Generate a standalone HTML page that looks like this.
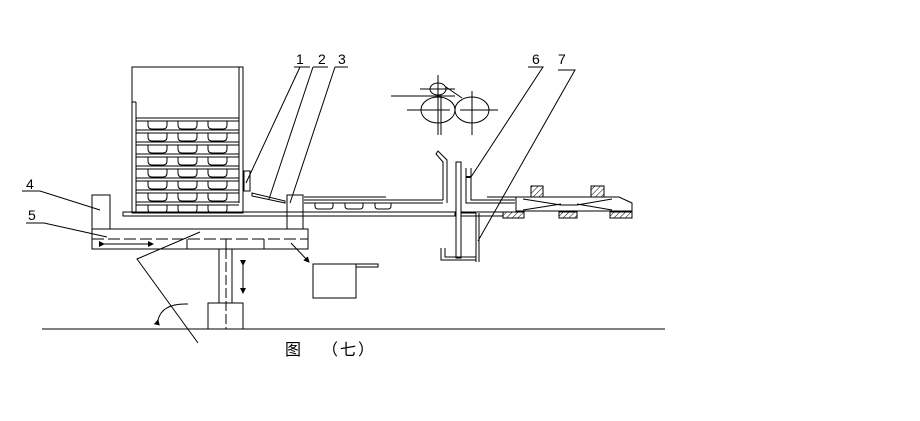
<!DOCTYPE html>
<html><head><meta charset="utf-8"><style>html,body{margin:0;padding:0;background:#fff}svg{display:block}</style></head>
<body>
<svg width="920" height="421" viewBox="0 0 920 421" xmlns="http://www.w3.org/2000/svg">
<defs>
<pattern id="h" width="4" height="4" patternUnits="userSpaceOnUse" patternTransform="rotate(45)"><line x1="0" y1="0" x2="0" y2="4" stroke="#000" stroke-width="1"/></pattern>
<marker id="a" markerWidth="6" markerHeight="6" refX="5" refY="3" orient="auto"><path d="M0,0 L6,3 L0,6z" fill="#000"/></marker>
</defs>
<g fill="none" stroke="#000" stroke-width="1">
<rect x="132" y="67" width="111" height="146"/>
<line x1="239" y1="67" x2="239" y2="203"/>
<line x1="136" y1="102" x2="136" y2="213"/>
<line x1="132" y1="102" x2="136" y2="102"/>
<g id="sh">
<line x1="136" y1="118" x2="239" y2="118"/><line x1="136" y1="121" x2="239" y2="121"/>
<path d="M148,121 v4 q0,4 4,4 h11 q4,0 4,-4 v-4 M178,121 v4 q0,4 4,4 h11 q4,0 4,-4 v-4 M208,121 v4 q0,4 4,4 h11 q4,0 4,-4 v-4"/>
</g>
<use href="#sh" y="12"/><use href="#sh" y="24"/><use href="#sh" y="36"/><use href="#sh" y="48"/><use href="#sh" y="60"/><use href="#sh" y="72"/><use href="#sh" y="84"/>
<rect x="123" y="212" width="332" height="4"/>
<line x1="461" y1="212" x2="516" y2="212"/><line x1="461" y1="216" x2="503" y2="216"/>
<rect x="244" y="171" width="6" height="20"/>
<path d="M252,193 L285,201 L285,203 L252,196z"/>
<rect x="92" y="195" width="18" height="34"/>
<rect x="287" y="195" width="16" height="34"/>
<line x1="304" y1="197" x2="386" y2="197"/>
<line x1="304" y1="200" x2="443" y2="200"/><line x1="304" y1="203" x2="443" y2="203"/>
<path d="M315,203 v3 q0,3 3,3 h12 q3,0 3,-3 v-3 M345,203 v3 q0,3 3,3 h12 q3,0 3,-3 v-3 M375,203 v3 q0,3 3,3 h10 q3,0 3,-3 v-3"/>
<rect x="92" y="229" width="216" height="20"/>
<line x1="92" y1="239" x2="308" y2="239" stroke-dasharray="12,4"/>
<line x1="187" y1="239" x2="187" y2="249"/><line x1="264" y1="239" x2="264" y2="249"/><line x1="226" y1="239" x2="226" y2="249"/>
<line x1="104" y1="244" x2="153" y2="244" marker-end="url(#a)" marker-start="url(#a)"/>
<line x1="219" y1="249" x2="219" y2="303"/><line x1="232" y1="249" x2="232" y2="303"/>
<line x1="226" y1="249" x2="226" y2="329" stroke-dasharray="10,3"/>
<rect x="208" y="303" width="35" height="26"/>
<line x1="243" y1="265" x2="243" y2="293" marker-end="url(#a)" marker-start="url(#a)"/>
<line x1="42" y1="329" x2="665" y2="329"/>
<path d="M313,264 h43 v34 h-43z M356,264 h22 v3 h-22"/>
<line x1="291" y1="243" x2="309" y2="262" marker-end="url(#a)"/>
<path d="M158,320 Q162,303 188,304" marker-start="url(#a)"/>
<polyline points="198,343 137,259 200,232"/>
<polyline points="294,67 310,67"/><line x1="300" y1="67" x2="246" y2="183"/>
<polyline points="313,67 328,67"/><line x1="313" y1="67" x2="269" y2="199"/>
<polyline points="335,67 348,67"/><line x1="335" y1="67" x2="290" y2="203"/>
<polyline points="22,191 40,191 100,210"/>
<polyline points="26,223 44,223 107,237"/>
<polyline points="528,67 543,67 471,177"/>
<polyline points="558,70 575,70 478,241"/>
<ellipse cx="438" cy="89" rx="8" ry="6"/>
<ellipse cx="438" cy="110" rx="17" ry="13"/>
<ellipse cx="472" cy="110" rx="17" ry="13"/>
<line x1="391" y1="96" x2="455" y2="96"/><line x1="420" y1="89" x2="455" y2="89"/>
<line x1="438" y1="75" x2="438" y2="135"/><line x1="441" y1="95" x2="441" y2="135"/>
<line x1="407" y1="110" x2="450" y2="110"/>
<line x1="472" y1="91" x2="472" y2="135"/><line x1="460" y1="110" x2="498" y2="110"/>
<line x1="446" y1="87" x2="462" y2="98"/>
<path d="M443,200 V162 L436,154 L438,151 L447,160 V203"/>
<rect x="456" y="162" width="5" height="96"/>
<path d="M466,168 V203 H515 M471,168 V200 H515"/>
<line x1="466" y1="177" x2="471" y2="177" stroke-width="2"/>
<path d="M476,213 V262 M479,213 V262 M441,248 V260 H476 M445,248 V257 H476"/>
<line x1="461" y1="213" x2="476" y2="213"/>
<path d="M516,197 H619 L632,203 V211 H516z"/>
<line x1="487" y1="197" x2="516" y2="197"/>
<path d="M523,199 L561,205 H577 L612,199 M523,210 L561,204 M577,204 L612,210"/>
<rect x="531" y="186" width="12" height="11" fill="url(#h)"/>
<rect x="591" y="186" width="13" height="11" fill="url(#h)"/>
<rect x="503" y="212" width="21" height="6" fill="url(#h)"/>
<rect x="559" y="212" width="18" height="6" fill="url(#h)"/>
<rect x="610" y="212" width="22" height="6" fill="url(#h)"/>
</g>
<g font-family="Liberation Sans, sans-serif" font-size="14" fill="#000">
<text x="296" y="64">1</text><text x="318" y="64">2</text><text x="338" y="64">3</text>
<text x="26" y="189">4</text><text x="28" y="220">5</text>
<text x="532" y="64">6</text><text x="558" y="64">7</text>
</g>
<g font-family="Liberation Sans, 'Noto Sans CJK SC', sans-serif" font-size="16" fill="#000">
<text x="285" y="355">图</text>
<text x="322" y="355" letter-spacing="2">（七）</text>
</g>
</svg>
</body></html>
